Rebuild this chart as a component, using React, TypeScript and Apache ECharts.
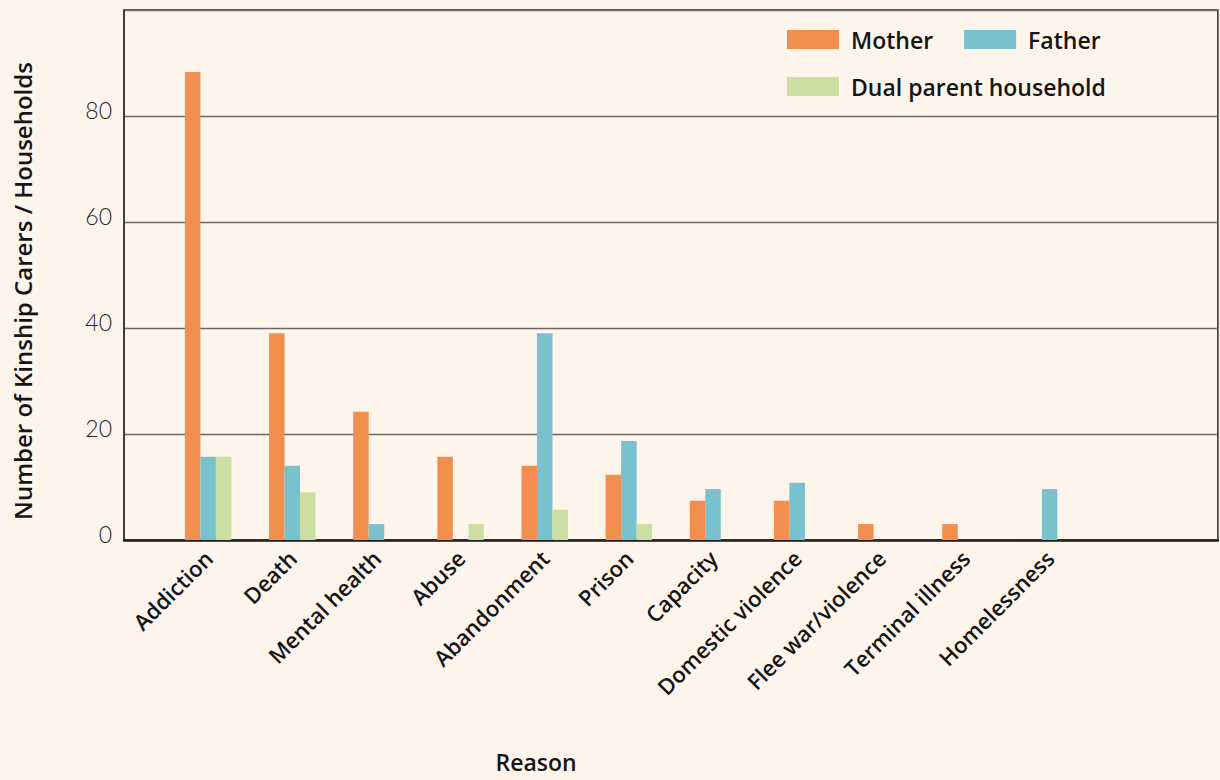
import React, { useEffect, useRef } from "react";
import * as echarts from "echarts";

const categories = ["", "Addiction", "Death", "Mental health", "Abuse", "Abandonment", "Prison", "Capacity", "Domestic violence", "Flee war/violence", "Terminal illness", "Homelessness", "", ""];
const mother = [null, 88.3, 39, 24.2, 15.7, 14, 12.3, 7.4, 7.4, 3, 3, null, null, null];
const father = [null, 15.7, 14, 3, null, 39, 18.7, 9.6, 10.8, null, null, 9.6, null, null];
const dual = [null, 15.7, 9, null, 3, 5.7, 3, null, null, null, null, null, null, null];
const yTicks = [0, 20, 40, 60, 80, 100];

const BG = "#fdf4eb";
const FONT = "Open Sans";
const LIGHT = "Lato";

export default function App() {
  const ref = useRef<HTMLDivElement>(null);
  useEffect(() => {
    if (!ref.current) return;
    const chart = echarts.init(ref.current, null, { renderer: "svg" });
    const legendText = { fontFamily: FONT, fontSize: 23, fontWeight: 600, color: "#151515", padding: [0, 0, 0, 7] };
    chart.setOption({
      animation: false,
      backgroundColor: BG,
      textStyle: { fontFamily: FONT },
      grid: {
        left: 124,
        top: 10,
        right: -4,
        bottom: 240,
        containLabel: false,
        show: true,
        borderColor: "#2e2a28",
        borderWidth: 1.5,
        backgroundColor: "transparent",
      },
      legend: [
        {
          data: ["Mother", "Father"],
          left: 787,
          top: 28,
          padding: 0,
          itemWidth: 52,
          itemHeight: 19,
          itemGap: 31,
          icon: "rect",
          textStyle: legendText,
        },
        {
          data: ["Dual parent household"],
          left: 787,
          top: 75,
          padding: 0,
          itemWidth: 52,
          itemHeight: 19,
          icon: "rect",
          textStyle: legendText,
        },
      ],
      xAxis: {
        type: "category",
        data: categories,
        boundaryGap: false,
        axisLine: { show: true, lineStyle: { color: "#222", width: 2.5 } },
        axisTick: { show: false },
        splitLine: { show: false },
        axisLabel: {
          interval: 0,
          rotate: 45,
          margin: 14,
          fontFamily: FONT,
          fontSize: 22,
          fontWeight: 600,
          color: "#151515",
        },
      },
      yAxis: {
        type: "value",
        min: yTicks[0],
        max: yTicks[yTicks.length - 1],
        interval: 20,
        axisLine: { show: true, lineStyle: { color: "#3a3532", width: 1.5 } },
        axisTick: { show: false },
        splitLine: { show: true, lineStyle: { color: "#6e6763", width: 1.3 } },
        axisLabel: {
          margin: 12,
          fontFamily: LIGHT,
          fontSize: 23,
          fontWeight: 300,
          color: "#2a2a2a",
          verticalAlign: "bottom",
          lineHeight: 12,
          formatter: (v: number) => (v === 100 ? "" : String(v)),
        },
      },
      series: [
        { name: "Mother", type: "bar", data: mother, barWidth: 15.5, barGap: "0%", itemStyle: { color: "#f28f4e" } },
        { name: "Father", type: "bar", data: father, barWidth: 15.5, barGap: "0%", itemStyle: { color: "#79c1cc" } },
        { name: "Dual parent household", type: "bar", data: dual, barWidth: 15.5, barGap: "0%", itemStyle: { color: "#cadfa1" } },
      ],
      graphic: [
        {
          type: "text",
          x: 22,
          y: 291,
          rotation: Math.PI / 2,
          style: {
            text: "Number of Kinship Carers / Households",
            fontFamily: FONT,
            fontSize: 24,
            fontWeight: 600,
            fill: "#151515",
            align: "center",
            verticalAlign: "middle",
          },
        },
        {
          type: "text",
          x: 536,
          y: 762,
          style: {
            text: "Reason",
            fontFamily: FONT,
            fontSize: 23,
            fontWeight: 600,
            fill: "#151515",
            align: "center",
            verticalAlign: "middle",
          },
        },
      ],
    });
    return () => chart.dispose();
  }, []);
  return (
    <div
      ref={ref}
      style={{ position: "fixed", left: 0, top: 0, width: 1220, height: 780, background: BG }}
    />
  );
}
